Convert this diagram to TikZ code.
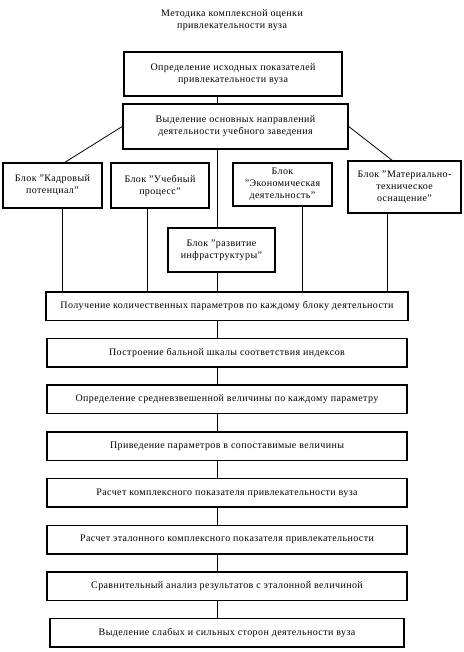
\documentclass[tikz,border=0pt]{standalone}
\usepackage{fontspec}
\setmainfont{Liberation Serif}[LetterSpace=4]
\usetikzlibrary{positioning}

\begin{document}
\begin{tikzpicture}[x=1pt, y=-1pt,
    every node/.style={font=\fontsize{10}{12}\selectfont},
    box/.style={draw, line width=1.5pt, align=center, inner sep=2pt},
    block/.style={box, minimum height=45pt},
    stage/.style={box, minimum width=360pt, minimum height=28.5pt},
    link/.style={line width=0.8pt},
    node distance=16.7pt
]
\useasboundingbox (0,0) rectangle (463,652);

\node[align=center] (title) at (232,20) {Методика комплексной оценки\\привлекательности вуза};

\node[box, minimum width=218pt, minimum height=44pt] (init) at (233,74) {Определение исходных показателей\\привлекательности вуза};
\node[box, minimum width=225pt, minimum height=45pt] (dirs) at (235.5,126.5) {Выделение основных направлений\\деятельности учебного заведения};

\node[block, minimum width=99pt] (kadr) at (52.5,185.5) {Блок "Кадровый\\потенциал"};
\node[block, minimum width=98pt] (ucheb) at (160,185.5) {Блок "Учебный\\процесс"};
\node[block, minimum width=99pt, minimum height=43pt] (econ) at (282.5,184.5) {Блок\\"Экономическая\\деятельность"};
\node[block, minimum width=113pt, minimum height=52pt] (mater) at (404.5,187) {Блок "Материально-\\техническое\\оснащение"};
\node[block, minimum width=107pt, minimum height=44pt] (razv) at (221.5,250) {Блок "развитие\\инфраструктуры"};

\node[stage, minimum width=362pt] (param) at (227,306) {Получение количественных параметров по каждому блоку деятельности};
\node[stage, below=of param] (scale) {Построение бальной шкалы соответствия индексов};
\node[stage, below=of scale] (avg) {Определение средневзвешенной величины по каждому параметру};
\node[stage, below=of avg] (norm) {Приведение параметров в сопоставимые величины};
\node[stage, below=of norm] (calc) {Расчет комплексного показателя привлекательности вуза};
\node[stage, below=of calc] (etalon) {Расчет эталонного комплексного показателя привлекательности};
\node[stage, below=of etalon] (compare) {Сравнительный анализ результатов с эталонной величиной};
\node[stage, below=of compare, minimum width=354pt] (result) {Выделение слабых и сильных сторон деятельности вуза};

\coordinate (axis) at (217,0);
\draw[link] (init.south -| axis) -- (dirs.north -| axis);
\draw[link] (dirs.south -| axis) -- (razv.north -| axis);
\draw[link] (razv.south -| axis) -- (param.north -| axis);
\draw[link] (dirs.west) -- ([xshift=12.5pt]kadr.north);
\draw[link] (dirs.east) -- ([xshift=-12.5pt]mater.north);
\draw[link] ([xshift=9.5pt]kadr.south) -- ([xshift=9.5pt]kadr.south |- param.north);
\draw[link] ([xshift=-13pt]ucheb.south) -- ([xshift=-13pt]ucheb.south |- param.north);
\draw[link] ([xshift=19.5pt]econ.south) -- ([xshift=19.5pt]econ.south |- param.north);
\draw[link] ([xshift=-17.5pt]mater.south) -- ([xshift=-17.5pt]mater.south |- param.north);
\foreach \a/\b in {param/scale, scale/avg, avg/norm, norm/calc, calc/etalon, etalon/compare, compare/result}
    \draw[link] (\a.south -| axis) -- (\b.north -| axis);

\end{tikzpicture}
\end{document}
